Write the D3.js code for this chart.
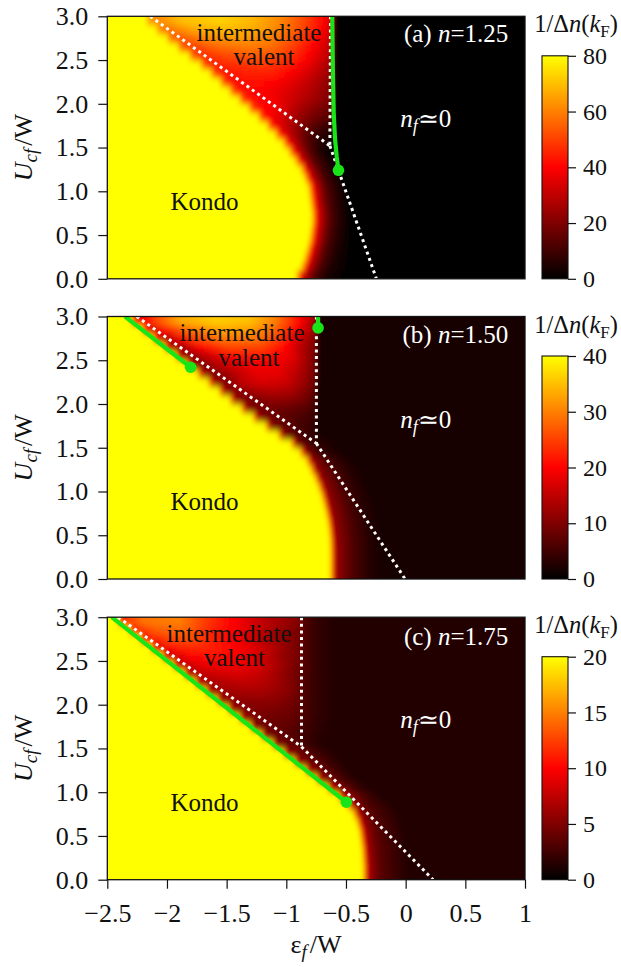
<!DOCTYPE html>
<html>
<head>
<meta charset="utf-8">
<script src="https://cdn.jsdelivr.net/npm/d3@7"></script>
<style>
  body { margin: 0; background: #fff; }
  svg { display: block; }
  text { font-family: "Liberation Serif", "Times New Roman", serif; }
</style>
</head>
<body>
<div id="viz"></div>
<script>
// row centres in U_cf/W (each row is 0.1 tall), bottom to top
var uRows = [0.05, 0.15, 0.25, 0.35, 0.45, 0.55, 0.65, 0.75, 0.85, 0.95,
             1.05, 1.15, 1.25, 1.35, 1.45, 1.55, 1.65, 1.75, 1.85, 1.95,
             2.05, 2.15, 2.25, 2.35, 2.45, 2.55, 2.65, 2.75, 2.85, 2.95];

// 1/dn(kF) along each row: [eps_f/W, value]
var rowsA = [
  [[-0.92,80],[-0.89,46],[-0.84,28],[-0.76,12],[-0.66,4],[-0.5,0]],
  [[-0.875,80],[-0.845,46],[-0.795,28],[-0.715,12],[-0.615,4],[-0.47,0]],
  [[-0.85,80],[-0.82,46],[-0.77,28],[-0.69,12],[-0.59,4],[-0.46,0]],
  [[-0.83,80],[-0.8,46],[-0.75,28],[-0.67,12],[-0.57,4],[-0.45,0]],
  [[-0.81,80],[-0.78,46],[-0.73,28],[-0.65,12],[-0.55,4],[-0.45,0]],
  [[-0.8,80],[-0.77,46],[-0.72,28],[-0.64,12],[-0.54,4],[-0.45,0]],
  [[-0.79,80],[-0.76,46],[-0.71,28],[-0.63,12],[-0.53,4],[-0.45,0]],
  [[-0.79,80],[-0.76,46],[-0.71,28],[-0.63,12],[-0.53,4],[-0.46,0]],
  [[-0.8,80],[-0.77,46],[-0.72,28],[-0.64,12],[-0.54,4],[-0.47,0]],
  [[-0.81,80],[-0.78,46],[-0.73,28],[-0.65,12],[-0.55,4],[-0.48,0]],
  [[-0.82,80],[-0.79,46],[-0.74,28],[-0.66,12],[-0.56,4],[-0.49,0]],
  [[-0.85,80],[-0.82,46],[-0.77,28],[-0.69,12],[-0.59,4],[-0.51,0]],
  [[-0.88,80],[-0.85,46],[-0.8,28],[-0.72,12],[-0.62,4],[-0.54,0]],
  [[-0.93,80],[-0.9,46],[-0.85,30],[-0.77,14],[-0.67,5],[-0.58,0]],
  [[-0.98,80],[-0.95,46],[-0.9,32],[-0.82,16],[-0.72,5],[-0.61,0]],
  [[-1.03,80],[-1.0,46],[-0.95,34],[-0.87,20],[-0.77,9],[-0.66,3],[-0.6,0]],
  [[-1.095,80],[-1.065,46],[-1.01,36],[-0.92,24],[-0.82,13],[-0.7,6],[-0.61,4],[-0.6,0]],
  [[-1.165,80],[-1.135,46],[-1.08,38],[-0.97,28],[-0.85,18],[-0.72,11],[-0.615,8],[-0.605,0]],
  [[-1.24,80],[-1.21,46],[-1.15,40],[-1.02,33],[-0.9,24],[-0.75,17],[-0.62,13],[-0.61,0]],
  [[-1.32,80],[-1.29,48],[-1.22,42],[-1.08,38],[-0.95,30],[-0.8,22],[-0.62,16],[-0.61,0]],
  [[-1.4,80],[-1.37,48],[-1.3,42],[-1.12,39],[-0.95,32],[-0.8,26],[-0.62,19],[-0.61,0]],
  [[-1.48,80],[-1.45,49],[-1.38,42],[-1.2,40],[-1.0,35],[-0.8,28],[-0.62,20],[-0.61,0]],
  [[-1.56,80],[-1.53,50],[-1.46,42],[-1.25,42],[-1.05,39],[-0.85,32],[-0.72,26],[-0.62,21],[-0.61,0]],
  [[-1.64,80],[-1.61,51],[-1.54,43],[-1.35,44],[-1.1,44],[-0.9,37],[-0.75,30],[-0.62,23],[-0.61,0]],
  [[-1.725,80],[-1.695,52],[-1.62,44],[-1.42,47],[-1.2,49],[-1.0,45],[-0.8,36],[-0.7,30],[-0.62,25],[-0.61,0]],
  [[-1.82,80],[-1.79,54],[-1.71,46],[-1.5,51],[-1.25,54],[-1.05,51],[-0.85,42],[-0.7,33],[-0.62,27],[-0.61,0]],
  [[-1.915,80],[-1.885,55],[-1.8,48],[-1.58,56],[-1.3,59],[-1.1,56],[-0.9,47],[-0.75,38],[-0.62,29],[-0.61,0]],
  [[-2.005,80],[-1.975,57],[-1.89,52],[-1.68,61],[-1.4,64],[-1.15,61],[-0.95,53],[-0.8,44],[-0.68,35],[-0.62,31],[-0.61,0]],
  [[-2.095,80],[-2.065,60],[-1.98,57],[-1.78,66],[-1.5,69],[-1.25,66],[-1.0,58],[-0.8,47],[-0.68,38],[-0.62,33],[-0.61,0]],
  [[-2.18,80],[-2.15,63],[-2.06,62],[-1.88,70],[-1.55,73],[-1.3,69],[-1.05,61],[-0.85,51],[-0.7,41],[-0.62,35],[-0.61,0]]
];

var rowsB = [
  [[-0.636,40],[-0.606,20],[-0.586,12],[-0.44,6],[-0.31,3],[-0.17,1.5]],
  [[-0.636,40],[-0.606,20],[-0.586,12],[-0.44,6],[-0.31,3],[-0.17,1.5]],
  [[-0.636,40],[-0.606,20],[-0.586,12],[-0.44,6],[-0.31,3],[-0.17,1.5]],
  [[-0.637,40],[-0.607,20],[-0.587,12],[-0.44,6],[-0.31,3],[-0.17,1.5]],
  [[-0.64,40],[-0.61,20],[-0.59,12],[-0.44,6],[-0.31,3],[-0.17,1.5]],
  [[-0.647,40],[-0.617,20],[-0.597,12],[-0.45,6],[-0.32,3],[-0.18,1.5]],
  [[-0.657,40],[-0.627,20],[-0.607,12],[-0.46,6],[-0.33,3],[-0.19,1.5]],
  [[-0.672,40],[-0.642,20],[-0.622,12],[-0.47,6],[-0.34,3],[-0.2,1.5]],
  [[-0.69,40],[-0.66,20],[-0.64,12],[-0.49,6],[-0.36,3],[-0.22,1.5]],
  [[-0.71,40],[-0.68,20],[-0.66,12],[-0.51,6],[-0.38,3],[-0.24,1.5]],
  [[-0.735,40],[-0.705,20],[-0.685,12],[-0.54,6],[-0.41,3],[-0.27,1.5]],
  [[-0.765,40],[-0.735,20],[-0.715,12],[-0.57,6],[-0.44,3],[-0.3,1.5]],
  [[-0.8,40],[-0.77,20],[-0.75,12],[-0.61,6],[-0.48,3],[-0.34,1.5]],
  [[-0.835,40],[-0.805,20],[-0.785,12],[-0.66,6],[-0.53,3],[-0.39,1.5]],
  [[-0.89,40],[-0.86,20],[-0.84,12],[-0.74,5],[-0.61,2.5],[-0.49,1.5]],
  [[-0.96,40],[-0.935,16],[-0.89,9],[-0.8,5],[-0.7,3],[-0.6,2],[-0.5,1.5]],
  [[-1.07,40],[-1.045,15],[-1.0,9],[-0.9,6],[-0.8,4],[-0.745,3],[-0.7,1.5]],
  [[-1.175,40],[-1.15,15],[-1.1,9],[-0.96,7],[-0.85,5],[-0.755,4],[-0.745,1.5]],
  [[-1.28,40],[-1.255,15],[-1.2,10],[-1.06,8],[-0.9,6],[-0.755,4.5],[-0.745,1.5]],
  [[-1.38,40],[-1.355,15],[-1.3,10],[-1.17,9],[-1.0,8],[-0.85,7],[-0.755,5],[-0.745,1.5]],
  [[-1.475,40],[-1.45,16],[-1.4,11],[-1.27,9],[-1.15,11],[-1.0,11],[-0.85,9],[-0.755,6],[-0.745,1.5]],
  [[-1.566,40],[-1.54,16],[-1.49,11],[-1.38,10],[-1.28,13],[-1.1,14],[-0.95,13],[-0.8,9],[-0.755,7],[-0.745,1.5]],
  [[-1.657,40],[-1.632,17],[-1.58,11],[-1.48,10],[-1.38,15],[-1.2,17],[-1.0,16],[-0.85,12],[-0.755,8],[-0.745,1.5]],
  [[-1.746,40],[-1.72,17],[-1.67,11],[-1.58,10],[-1.45,14],[-1.25,18],[-1.05,18],[-0.9,14],[-0.755,9],[-0.745,1.5]],
  [[-1.838,40],[-1.813,18],[-1.76,11],[-1.68,10],[-1.55,15],[-1.3,19],[-1.1,19],[-0.92,16],[-0.8,11],[-0.755,9],[-0.745,1.5]],
  [[-1.93,40],[-1.905,18],[-1.85,11],[-1.78,11],[-1.65,16],[-1.4,21],[-1.15,21],[-0.95,18],[-0.82,12],[-0.755,9],[-0.745,1.5]],
  [[-2.025,40],[-2.0,19],[-1.95,12],[-1.88,12],[-1.75,19],[-1.5,25],[-1.2,25],[-1.0,20],[-0.85,13],[-0.755,10],[-0.745,1.5]],
  [[-2.12,40],[-2.095,20],[-2.02,13],[-1.95,16],[-1.8,24],[-1.55,29],[-1.25,29],[-1.05,24],[-0.9,17],[-0.8,12],[-0.755,10],[-0.745,1.5]],
  [[-2.212,40],[-2.187,21],[-2.12,16],[-2.02,21],[-1.85,28],[-1.55,33],[-1.3,32],[-1.1,28],[-0.92,20],[-0.8,14],[-0.755,11],[-0.745,1.5]],
  [[-2.305,40],[-2.28,22],[-2.2,19],[-2.08,26],[-1.9,33],[-1.6,36],[-1.3,35],[-1.1,30],[-0.92,22],[-0.8,15],[-0.755,12],[-0.745,1.5]]
];

var rowsC = [
  [[-0.36,20],[-0.335,10],[-0.3,6],[-0.21,3.5],[-0.06,2],[0.04,1.25]],
  [[-0.36,20],[-0.335,10],[-0.3,6],[-0.21,3.5],[-0.06,2],[0.04,1.25]],
  [[-0.365,20],[-0.34,10],[-0.305,6],[-0.215,3.5],[-0.065,2],[0.035,1.25]],
  [[-0.37,20],[-0.345,10],[-0.31,6],[-0.22,3.5],[-0.07,2],[0.03,1.25]],
  [[-0.38,20],[-0.355,10],[-0.32,6],[-0.23,3.5],[-0.08,2],[0.02,1.25]],
  [[-0.39,20],[-0.365,10],[-0.33,6],[-0.24,3.5],[-0.09,2],[0.01,1.25]],
  [[-0.41,20],[-0.385,10],[-0.35,6],[-0.26,3.5],[-0.11,2],[-0.01,1.25]],
  [[-0.44,20],[-0.415,10],[-0.38,6],[-0.29,3.5],[-0.14,2],[-0.04,1.25]],
  [[-0.49,20],[-0.465,10],[-0.43,6],[-0.34,3.5],[-0.19,2],[-0.09,1.25]],
  [[-0.564,20],[-0.54,9],[-0.44,5],[-0.32,2.5],[-0.2,1.25]],
  [[-0.656,20],[-0.632,8],[-0.52,4.5],[-0.4,2.2],[-0.3,1.25]],
  [[-0.749,20],[-0.725,7],[-0.6,4],[-0.48,2],[-0.38,1.25]],
  [[-0.841,20],[-0.817,6.5],[-0.68,4],[-0.55,2],[-0.45,1.25]],
  [[-0.934,20],[-0.91,6],[-0.76,4],[-0.62,2],[-0.5,1.25]],
  [[-1.026,20],[-1.0,6],[-0.85,4],[-0.7,2],[-0.55,1.25]],
  [[-1.119,20],[-1.095,5.5],[-0.9,3.2],[-0.8,2],[-0.7,1.4],[-0.6,1.25]],
  [[-1.211,20],[-1.187,5.5],[-1.01,3.6],[-0.88,2.8],[-0.87,2.6],[-0.75,1.7],[-0.6,1.3],[-0.45,1.25]],
  [[-1.304,20],[-1.28,5.5],[-1.11,4],[-1.0,3.8],[-0.88,3],[-0.87,2.8],[-0.75,1.8],[-0.6,1.35],[-0.45,1.25]],
  [[-1.396,20],[-1.372,6],[-1.22,4.5],[-1.1,4.3],[-0.95,4],[-0.88,3.3],[-0.87,3],[-0.75,1.9],[-0.6,1.4],[-0.45,1.25]],
  [[-1.489,20],[-1.465,6],[-1.32,5],[-1.2,5],[-1.0,4.5],[-0.88,3.6],[-0.87,3.1],[-0.75,2],[-0.6,1.4],[-0.45,1.25]],
  [[-1.581,20],[-1.557,6],[-1.42,5.5],[-1.3,5.5],[-1.1,5.5],[-0.95,4.5],[-0.88,3.8],[-0.87,3.2],[-0.75,2],[-0.6,1.4],[-0.45,1.25]],
  [[-1.674,20],[-1.65,6.5],[-1.53,6],[-1.4,6.5],[-1.2,6.5],[-1.0,5.5],[-0.88,4],[-0.87,3.3],[-0.75,2],[-0.6,1.4],[-0.45,1.25]],
  [[-1.766,20],[-1.742,7],[-1.63,6.5],[-1.5,7],[-1.3,7.5],[-1.1,6.5],[-0.95,5],[-0.88,4],[-0.87,3.3],[-0.75,2],[-0.6,1.4],[-0.45,1.25]],
  [[-1.859,20],[-1.835,7],[-1.74,7],[-1.6,8],[-1.4,8.5],[-1.2,7.5],[-1.05,6],[-0.88,4],[-0.87,3.3],[-0.75,2],[-0.6,1.4],[-0.45,1.25]],
  [[-1.951,20],[-1.927,7.5],[-1.84,7.5],[-1.7,9],[-1.5,9.5],[-1.3,9],[-1.1,7],[-0.95,5],[-0.88,4.2],[-0.87,3.4],[-0.75,2],[-0.6,1.4],[-0.45,1.25]],
  [[-2.044,20],[-2.02,8],[-1.94,8],[-1.8,10],[-1.6,10.5],[-1.4,10],[-1.2,8],[-1.05,6],[-0.88,4.5],[-0.87,3.5],[-0.75,2],[-0.6,1.4],[-0.45,1.25]],
  [[-2.136,20],[-2.112,8],[-2.04,9],[-1.9,11],[-1.7,11.5],[-1.5,10.5],[-1.3,9],[-1.1,7],[-0.95,5],[-0.88,4.5],[-0.87,3.5],[-0.75,2],[-0.6,1.4],[-0.45,1.25]],
  [[-2.229,20],[-2.205,9],[-2.14,10],[-2.0,12.5],[-1.8,13],[-1.6,11],[-1.4,9.5],[-1.2,7],[-1.0,5.5],[-0.88,4.5],[-0.87,3.5],[-0.75,2],[-0.6,1.4],[-0.45,1.25]],
  [[-2.321,20],[-2.297,10],[-2.24,11],[-2.1,13.5],[-1.85,14],[-1.65,11.5],[-1.4,9.5],[-1.2,7.5],[-1.0,5.5],[-0.88,4.5],[-0.87,3.5],[-0.75,2],[-0.6,1.4],[-0.45,1.25]],
  [[-2.414,20],[-2.39,11],[-2.34,12],[-2.2,14.5],[-1.9,15],[-1.7,12.5],[-1.45,10],[-1.2,7.5],[-1.0,6],[-0.88,5],[-0.87,3.5],[-0.75,2],[-0.6,1.4],[-0.45,1.25]]
];

// phase boundaries (white dotted), [eps, U]
var boundA = [[[-2.14,3.0],[-0.635,1.52]], [[-0.63,3.0],[-0.635,1.52]], [[-0.635,1.52],[-0.245,0]]];
var boundB = [[[-2.254,3.0],[-0.748,1.55]], [[-0.748,3.0],[-0.748,1.55]], [[-0.748,1.55],[-0.005,0]]];
var boundC = [[[-2.41,3.0],[-0.873,1.52]], [[-0.873,3.0],[-0.873,1.52]], [[-0.873,1.52],[0.23,0]]];

// green lines, the dot sits on the last point
var greenA = [[[-0.615,3.0],[-0.61,2.4],[-0.603,1.9],[-0.592,1.6],[-0.578,1.4],[-0.563,1.24]]];
var greenB = [[[-2.352,3.0],[-1.802,2.42]], [[-0.734,3.0],[-0.734,2.87]]];
var greenC = [[[-2.463,3.0],[-0.497,0.885]]];

var cbMax = [80, 40, 20];
var cbTicksA = [0, 20, 40, 60, 80];
var cbTicksB = [0, 10, 20, 30, 40];
var cbTicksC = [0, 5, 10, 15, 20];
var panelTags = ["(a)", "(b)", "(c)"];
var fillings = ["1.25", "1.50", "1.75"];
// label anchors (eps) for "intermediate" / "valent"
var interX = [-1.229, -1.371, -1.48];
var valentX = [-1.187, -1.313, -1.434];

var yTicks = [0, 0.5, 1.0, 1.5, 2.0, 2.5, 3.0];
var xTicks = [-2.5, -2, -1.5, -1, -0.5, 0, 0.5, 1];
var xTickLabels = ["\u22122.5", "\u22122", "\u22121.5", "\u22121", "\u22120.5", "0", "0.5", "1"];

var width = 621, height = 967;
var left = 107.3, plotW = 417.7, plotH = 262.5;
var tops = [16.3, 316.5, 617.2];
var cbX = 542, cbW = 26, cbOff = 39.5;
var tickFont = 26, cbFont = 24, labelFont = 25;
var green = "#18e418";

var panels = [
  {rows: rowsA, bounds: boundA, greens: greenA, ticks: cbTicksA},
  {rows: rowsB, bounds: boundB, greens: greenB, ticks: cbTicksB},
  {rows: rowsC, bounds: boundC, greens: greenC, ticks: cbTicksC}
];

var svg = d3.select("#viz").append("svg")
  .attr("width", width)
  .attr("height", height);
var defs = svg.append("defs");

var x = d3.scaleLinear().domain([-2.5, 1]).range([0, plotW]);
var y = d3.scaleLinear().domain([0, 3]).range([plotH, 0]);

var line = d3.line().x(function(d) { return x(d[0]); }).y(function(d) { return y(d[1]); });

defs.append("clipPath").attr("id", "plotclip")
  .append("rect").attr("x", 0).attr("y", 0).attr("width", plotW).attr("height", plotH);

// soften the 0.1-row steps (the original map is finely pixelated)
defs.append("filter").attr("id", "soft")
  .attr("x", -0.05).attr("y", -0.1).attr("width", 1.1).attr("height", 1.2)
  .append("feGaussianBlur").attr("stdDeviation", "2.8 3.4");

panels.forEach(function(p, i) {
  var max = cbMax[i], half = max / 2;
  var color = d3.scaleLinear().domain([0, half, max]).range(["#000000", "#ff0000", "#ffff00"]).clamp(true);

  var g = svg.append("g").attr("transform", "translate(" + left + "," + tops[i] + ")");
  var plot = g.append("g").attr("clip-path", "url(#plotclip)");
  var heat = plot.append("g").attr("filter", "url(#soft)");

  // heat map rows, colour varies along eps through a gradient with stops at the read values
  p.rows.forEach(function(row, r) {
    var id = "row" + i + "_" + r;
    var stops = [];
    row.forEach(function(pt, k) {
      if (k > 0) {
        var prev = row[k - 1];
        if ((prev[1] - half) * (pt[1] - half) < 0) {
          // extra stop where the colour map bends (pure red)
          var e = prev[0] + (half - prev[1]) / (pt[1] - prev[1]) * (pt[0] - prev[0]);
          stops.push([e, half]);
        }
      }
      stops.push(pt);
    });
    var grad = defs.append("linearGradient").attr("id", id)
      .attr("gradientUnits", "userSpaceOnUse")
      .attr("x1", 0).attr("x2", plotW).attr("y1", 0).attr("y2", 0);
    grad.selectAll("stop").data(stops).enter().append("stop")
      .attr("offset", function(d) { return x(d[0]) / plotW; })
      .attr("stop-color", function(d) { return color(d[1]); });
    var u = uRows[r];
    var y0 = y(u + 0.05) - 0.4, y1 = y(u - 0.05) + 0.4;
    if (r == p.rows.length - 1) y0 -= 14;   // run past the frame so the blur has no edge
    if (r == 0) y1 += 14;
    heat.append("rect")
      .attr("x", -14)
      .attr("width", plotW + 28)
      .attr("y", y0)
      .attr("height", y1 - y0)
      .attr("fill", "url(#" + id + ")");
  });

  // dotted boundaries
  plot.selectAll(".bound").data(p.bounds).enter().append("path")
    .attr("class", "bound")
    .attr("d", line)
    .attr("fill", "none")
    .attr("stroke", "#fff")
    .attr("stroke-width", 3)
    .attr("stroke-dasharray", "3 3.6");

  // green lines + end dots
  plot.selectAll(".gl").data(p.greens).enter().append("path")
    .attr("class", "gl")
    .attr("d", line)
    .attr("fill", "none")
    .attr("stroke", green)
    .attr("stroke-width", 4.2);
  plot.selectAll(".gd").data(p.greens).enter().append("circle")
    .attr("class", "gd")
    .attr("cx", function(d) { return x(d[d.length - 1][0]); })
    .attr("cy", function(d) { return y(d[d.length - 1][1]); })
    .attr("r", 5.8)
    .attr("fill", green);

  // frame
  g.append("rect").attr("width", plotW).attr("height", plotH)
    .attr("fill", "none").attr("stroke", "#111").attr("stroke-width", 1.3);

  // y axis
  var yAxis = d3.axisLeft(y).tickValues(yTicks).tickFormat(d3.format(".1f")).tickSize(9).tickPadding(10);
  var ya = g.append("g").call(yAxis)
    .attr("font-size", tickFont).attr("font-family", "Liberation Serif, serif");
  ya.select(".domain").remove();
  ya.selectAll("line").attr("stroke", "#111").attr("stroke-width", 1.2);
  ya.selectAll("text").attr("fill", "#111");

  // x axis only on the last panel
  if (i == 2) {
    var xAxis = d3.axisBottom(x).tickValues(xTicks)
      .tickFormat(function(d, k) { return xTickLabels[k]; })
      .tickSize(9).tickPadding(15);
    var xa = g.append("g").attr("transform", "translate(0," + plotH + ")").call(xAxis)
      .attr("font-size", tickFont).attr("font-family", "Liberation Serif, serif");
    xa.select(".domain").remove();
    xa.selectAll("line").attr("stroke", "#111").attr("stroke-width", 1.2);
    xa.selectAll("text").attr("fill", "#111");
  }

  // text in the map
  g.append("text").attr("x", x(interX[i])).attr("y", 24.5)
    .attr("text-anchor", "middle").attr("font-size", labelFont).attr("fill", "#111")
    .text("intermediate");
  g.append("text").attr("x", x(valentX[i])).attr("y", 49)
    .attr("text-anchor", "middle").attr("font-size", labelFont).attr("fill", "#111")
    .text("valent");
  g.append("text").attr("x", x(-1.685)).attr("y", y(0.79))
    .attr("text-anchor", "middle").attr("font-size", labelFont).attr("fill", "#111")
    .text("Kondo");

  var tag = g.append("text").attr("x", 401).attr("y", 26 + (i == 2 ? 2 : 0))
    .attr("text-anchor", "end").attr("font-size", labelFont).attr("fill", "#fff");
  tag.append("tspan").text(panelTags[i] + " ");
  tag.append("tspan").attr("font-style", "italic").text("n");
  tag.append("tspan").text("=" + fillings[i]);

  var nf = g.append("text").attr("x", 293).attr("y", 111)
    .attr("font-size", labelFont).attr("fill", "#fff");
  nf.append("tspan").attr("font-style", "italic").text("n");
  nf.append("tspan").attr("font-style", "italic").attr("font-size", 18).attr("dy", 5).text("f");
  nf.append("tspan").attr("dy", -5).text("\u2243" + "0");

  // y label
  var yl = g.append("text")
    .attr("transform", "translate(" + (32 - left) + "," + (plotH / 2) + ") rotate(-90)")
    .attr("text-anchor", "middle").attr("font-size", 26).attr("fill", "#111");
  yl.append("tspan").attr("font-style", "italic").text("U");
  yl.append("tspan").attr("font-style", "italic").attr("font-size", 19).attr("dy", 5).text("cf");
  yl.append("tspan").attr("dy", -5).attr("dx", 3).text("/W");

  // colour bar
  var cbH = plotH - cbOff;
  var cb = svg.append("g").attr("transform", "translate(" + cbX + "," + (tops[i] + cbOff) + ")");
  var cbScale = d3.scaleLinear().domain([0, max]).range([cbH, 0]);
  var cid = "cb" + i;
  var cg = defs.append("linearGradient").attr("id", cid)
    .attr("x1", 0).attr("y1", 1).attr("x2", 0).attr("y2", 0);
  cg.selectAll("stop").data([0, half, max]).enter().append("stop")
    .attr("offset", function(d) { return d / max; })
    .attr("stop-color", function(d) { return color(d); });
  cb.append("rect").attr("width", cbW).attr("height", cbH)
    .attr("fill", "url(#" + cid + ")").attr("stroke", "#111").attr("stroke-width", 1.1);
  var cbAxis = d3.axisRight(cbScale).tickValues(p.ticks).tickSize(8).tickPadding(7);
  var ca = cb.append("g").attr("transform", "translate(" + cbW + ",0)").call(cbAxis)
    .attr("font-size", cbFont).attr("font-family", "Liberation Serif, serif");
  ca.select(".domain").remove();
  ca.selectAll("line").attr("stroke", "#111").attr("stroke-width", 1.2);
  ca.selectAll("text").attr("fill", "#111");

  var ct = svg.append("text").attr("x", 618).attr("y", tops[i] + 16)
    .attr("text-anchor", "end").attr("font-size", 24.5).attr("fill", "#111");
  ct.append("tspan").text("1/\u0394");
  ct.append("tspan").attr("font-style", "italic").text("n");
  ct.append("tspan").text("(");
  ct.append("tspan").attr("font-style", "italic").text("k");
  ct.append("tspan").attr("font-size", 17).attr("dy", 5).text("F");
  ct.append("tspan").attr("dy", -5).text(")");
});

// x label
var xl = svg.append("text").attr("x", 316).attr("y", 953)
  .attr("text-anchor", "middle").attr("font-size", 26).attr("fill", "#111");
xl.append("tspan").text("\u03b5");
xl.append("tspan").attr("font-style", "italic").attr("font-size", 19).attr("dy", 5).text("f");
xl.append("tspan").attr("dy", -5).attr("dx", 3).text("/W");
</script>
</body>
</html>
